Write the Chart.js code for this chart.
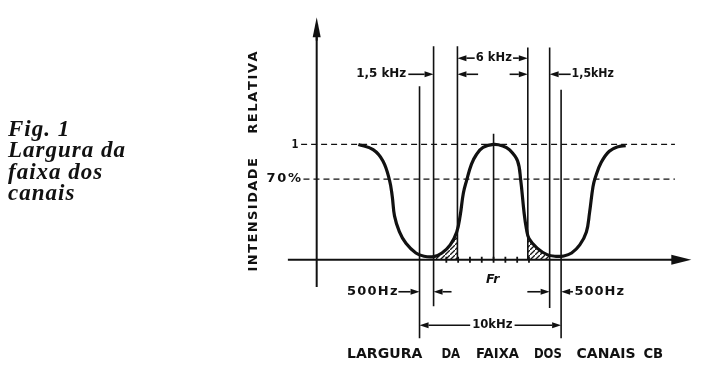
<!DOCTYPE html>
<html>
<head>
<meta charset="utf-8">
<script src="https://cdn.jsdelivr.net/npm/chart.js@4"></script>
<style>
html, body { margin: 0; padding: 0; background: #fff; }
#caixa { position: relative; width: 723px; height: 379px; }
#grafico { position: absolute; left: 0; top: 0; }
#legenda { position: absolute; left: 8px; top: 118px; font: italic bold 23px/21.3px 'Liberation Serif', 'DejaVu Serif', serif; letter-spacing: 1px; color: #111; }
</style>
</head>
<body>
<div id="caixa">
  <canvas id="grafico" width="723" height="379"></canvas>
  <div id="legenda">Fig. 1<br>Largura da<br>faixa dos<br>canais</div>
</div>
<script>
// x em kHz relativo a Fr, y em intensidade relativa
const curvaX = [-11.45, -10.2, -9.37, -8.81, -8.58, -8.39, -7.98, -7.42, -6.58, -5.89, -5.06, -4.37, -3.67, -3.12, -2.83, -2.56, -2.28, -1.87, -1.45, -0.89, 0, 0.78, 1.33, 2.03, 2.3, 2.58, 2.78, 3.0, 3.69, 4.53, 5.3, 5.95, 6.61, 7.3, 7.86, 8.13, 8.42, 8.63, 9.11, 9.8, 10.63, 11.19];
const curvaY = [1.0, 0.955, 0.857, 0.689, 0.549, 0.381, 0.244, 0.143, 0.059, 0.031, 0.028, 0.059, 0.129, 0.241, 0.381, 0.577, 0.689, 0.829, 0.913, 0.975, 1.0, 0.987, 0.955, 0.857, 0.689, 0.412, 0.269, 0.185, 0.101, 0.045, 0.03, 0.033, 0.059, 0.129, 0.241, 0.409, 0.633, 0.717, 0.843, 0.941, 0.983, 0.989];

// áreas hachuradas
const hachuraEsqX = [-4.9, -4.37, -3.67, -3.12, -3.06];
const hachuraEsqY = [0.03, 0.059, 0.129, 0.241, 0.26];
const hachuraDirX = [2.9, 3.0, 3.69, 4.53, 4.75];
const hachuraDirY = [0.22, 0.185, 0.101, 0.045, 0.04];

// linhas verticais de referência
const marcasX = [-6.27, -5.08, -3.06, 0, 2.9, 4.75, 5.72];
const marcasTopo = [1.504, 1.851, 1.851, 1.092, 1.84, 1.84, 1.473];
const marcasBase = [-0.681, -0.403, 0, 0, 0, -0.418, -0.681];

// níveis tracejados
const niveis = [1, 0.7];
const niveisRotulos = ['1', '70%'];
const niveisIni = [-16.3, -16.1];
const niveisFim = [15.36, 15.36];

// pequenas marcas no eixo
const ticksX = [-4, -3, -2, -1, 0, 1, 2, 3];

const ctx = document.getElementById('grafico').getContext('2d');
const cor = '#111';

// padrão de hachura
const tela = document.createElement('canvas');
tela.width = 5; tela.height = 5;
const t2 = tela.getContext('2d');
t2.strokeStyle = '#1a1a1a';
t2.lineWidth = 1.3;
t2.beginPath(); t2.moveTo(-1, 6); t2.lineTo(6, -1); t2.stroke();
const padrao = ctx.createPattern(tela, 'repeat');

const pares = (xs, ys) => xs.map((x, i) => ({ x: x, y: ys[i] }));

const conjuntos = [];
conjuntos.push({ data: pares(curvaX, curvaY), borderColor: cor, borderWidth: 3.2, tension: 0.4, fill: false });
conjuntos.push({ data: ticksX.map(x => ({ x: x, y: 0 })), showLine: false, pointStyle: 'line', pointRadius: 3, pointRotation: 90, pointBorderWidth: 1.8, pointBorderColor: cor });
marcasX.forEach((x, i) => {
    conjuntos.push({ data: [{ x: x, y: marcasBase[i] }, { x: x, y: marcasTopo[i] }], borderColor: cor, borderWidth: 1.6, fill: false });
});
niveis.forEach((n, i) => {
    conjuntos.push({ data: [{ x: niveisIni[i], y: n }, { x: niveisFim[i], y: n }], borderColor: cor, borderWidth: 1.3, borderDash: [6, 4], fill: false });
});
// eixos
conjuntos.push({ data: [{ x: -17.42, y: 0 }, { x: 15.3, y: 0 }], borderColor: cor, borderWidth: 2, fill: false });
conjuntos.push({ data: [{ x: -14.98, y: -0.235 }, { x: -14.98, y: 1.94 }], borderColor: cor, borderWidth: 2, fill: false });
// hachuras
conjuntos.push({ data: pares(hachuraEsqX, hachuraEsqY), borderWidth: 0, borderColor: 'rgba(0,0,0,0)', backgroundColor: padrao, fill: 'origin', tension: 0.4 });
conjuntos.push({ data: pares(hachuraDirX, hachuraDirY), borderWidth: 0, borderColor: 'rgba(0,0,0,0)', backgroundColor: padrao, fill: 'origin', tension: 0.4 });

// setas de cota: de (x), até a linha marcasX[marca], na altura y
const cotas = [
    { de: -1.6, marca: 2, y: 1.748 }, { de: 1.65, marca: 4, y: 1.748 },
    { de: -7.22, marca: 1, y: 1.608 }, { de: -1.31, marca: 2, y: 1.608 },
    { de: 1.36, marca: 4, y: 1.608 }, { de: 6.53, marca: 5, y: 1.608 },
    { de: -8.06, marca: 0, y: -0.277 }, { de: -3.56, marca: 1, y: -0.277 },
    { de: 2.86, marca: 5, y: -0.277 }, { de: 6.72, marca: 6, y: -0.277 },
    { de: -1.98, marca: 0, y: -0.567 }, { de: 1.78, marca: 6, y: -0.567 }
];

const rotulos = [
    { t: '1,5 kHz', x0: -11.64, x1: -7.39, y: 1.608, f: 12 },
    { t: '6 kHz', x0: -1.5, x1: 1.55, y: 1.748, f: 12 },
    { t: '1,5kHz', x0: 6.61, x1: 10.19, y: 1.608, f: 12 },
    { t: '500Hz', x0: -12.42, x1: -8.14, y: -0.277, f: 13 },
    { t: '500Hz', x0: 6.86, x1: 11.05, y: -0.277, f: 13 },
    { t: '10kHz', x0: -1.81, x1: 1.61, y: -0.567, f: 12 },
    { t: niveisRotulos[0], x0: -17.12, x1: -16.53, y: niveis[0], f: 13 },
    { t: niveisRotulos[1], x0: -19.23, x1: -16.31, y: niveis[1], f: 13 }
];
const titulo = [
    { t: 'LARGURA', x0: -12.42, x1: -6.03 }, { t: 'DA', x0: -4.42, x1: -2.83 },
    { t: 'FAIXA', x0: -1.48, x1: 2.28 }, { t: 'DOS', x0: 3.42, x1: 5.78 },
    { t: 'CANAIS', x0: 7.03, x1: 12.03 }, { t: 'CB', x0: 12.69, x1: 14.36 }
];
const tituloY = [
    { t: 'INTENSIDADE', y0: -0.101, y1: 0.882 },
    { t: 'RELATIVA', y0: 1.092, y1: 1.807 }
];

/**
 * Desenha o texto entre x0 e x1: espaça as letras ou comprime se não couber
 */
function textoAjustado(c, texto, x0, x1, y) {
    const letras = [...texto];
    const larg = letras.map(l => c.measureText(l).width);
    const total = larg.reduce((a, b) => a + b, 0);
    const alvo = x1 - x0;
    if (letras.length === 1 || total >= alvo) {
        c.save();
        c.translate(x0, y);
        c.scale(Math.min(1, alvo / total), 1);
        c.fillText(texto, 0, 0);
        c.restore();
        return;
    }
    const esp = (alvo - total) / (letras.length - 1);
    let x = x0;
    letras.forEach((l, i) => { c.fillText(l, x, y); x += larg[i] + esp; });
}

/**
 * Seta com ponta em (x2, y2)
 */
function seta(c, x1, y1, x2, y2, comp, meia) {
    const a = Math.atan2(y2 - y1, x2 - x1);
    const cs = Math.cos(a), sn = Math.sin(a);
    const bx = x2 - comp * cs, by = y2 - comp * sn;
    c.beginPath(); c.moveTo(x1, y1); c.lineTo(bx, by); c.stroke();
    c.beginPath();
    c.moveTo(x2, y2);
    c.lineTo(bx + meia * sn, by - meia * cs);
    c.lineTo(bx - meia * sn, by + meia * cs);
    c.closePath(); c.fill();
}

const anotacoes = {
    id: 'anotacoes',
    afterDatasetsDraw(chart) {
        const c = chart.ctx;
        const sx = chart.scales.x, sy = chart.scales.y;
        const px = v => sx.getPixelForValue(v);
        const py = v => sy.getPixelForValue(v);
        c.save();
        c.fillStyle = cor; c.strokeStyle = cor;
        // pontas dos eixos
        c.lineWidth = 2;
        seta(c, px(15.0), py(0), px(16.75), py(0), 20, 5);
        seta(c, px(-14.98), py(1.9), px(-14.98), py(2.103), 20, 4);
        // cotas
        c.lineWidth = 1.6;
        cotas.forEach(k => seta(c, px(k.de), py(k.y), px(marcasX[k.marca]), py(k.y), 9, 3));
        // textos
        c.textBaseline = 'middle';
        c.textAlign = 'left';
        rotulos.forEach(r => {
            c.font = 'bold ' + r.f + "px 'DejaVu Sans'";
            textoAjustado(c, r.t, px(r.x0), px(r.x1), py(r.y));
        });
        c.font = "bold italic 13px 'DejaVu Sans'";
        textoAjustado(c, 'Fr', px(-0.64), px(0.61), py(-0.168));
        c.font = "bold 14px 'DejaVu Sans'";
        titulo.forEach(r => textoAjustado(c, r.t, px(r.x0), px(r.x1), py(-0.824)));
        c.font = "bold 13px 'DejaVu Sans'";
        tituloY.forEach(r => {
            c.save();
            c.translate(px(-20.33), py(r.y0));
            c.rotate(-Math.PI / 2);
            textoAjustado(c, r.t, 0, py(r.y0) - py(r.y1), 0);
            c.restore();
        });
        c.restore();
    }
};

new Chart(ctx, {
    type: 'line',
    data: { datasets: conjuntos },
    options: {
        responsive: false,
        animation: false,
        events: [],
        layout: { padding: 0 },
        elements: { point: { radius: 0 } },
        scales: {
            x: { type: 'linear', min: -41.31, max: 18.94, display: false },
            y: { type: 'linear', min: -0.983, max: 2.2017, display: false }
        },
        plugins: { legend: { display: false }, tooltip: { enabled: false } }
    },
    plugins: [anotacoes]
});
</script>
</body>
</html>
